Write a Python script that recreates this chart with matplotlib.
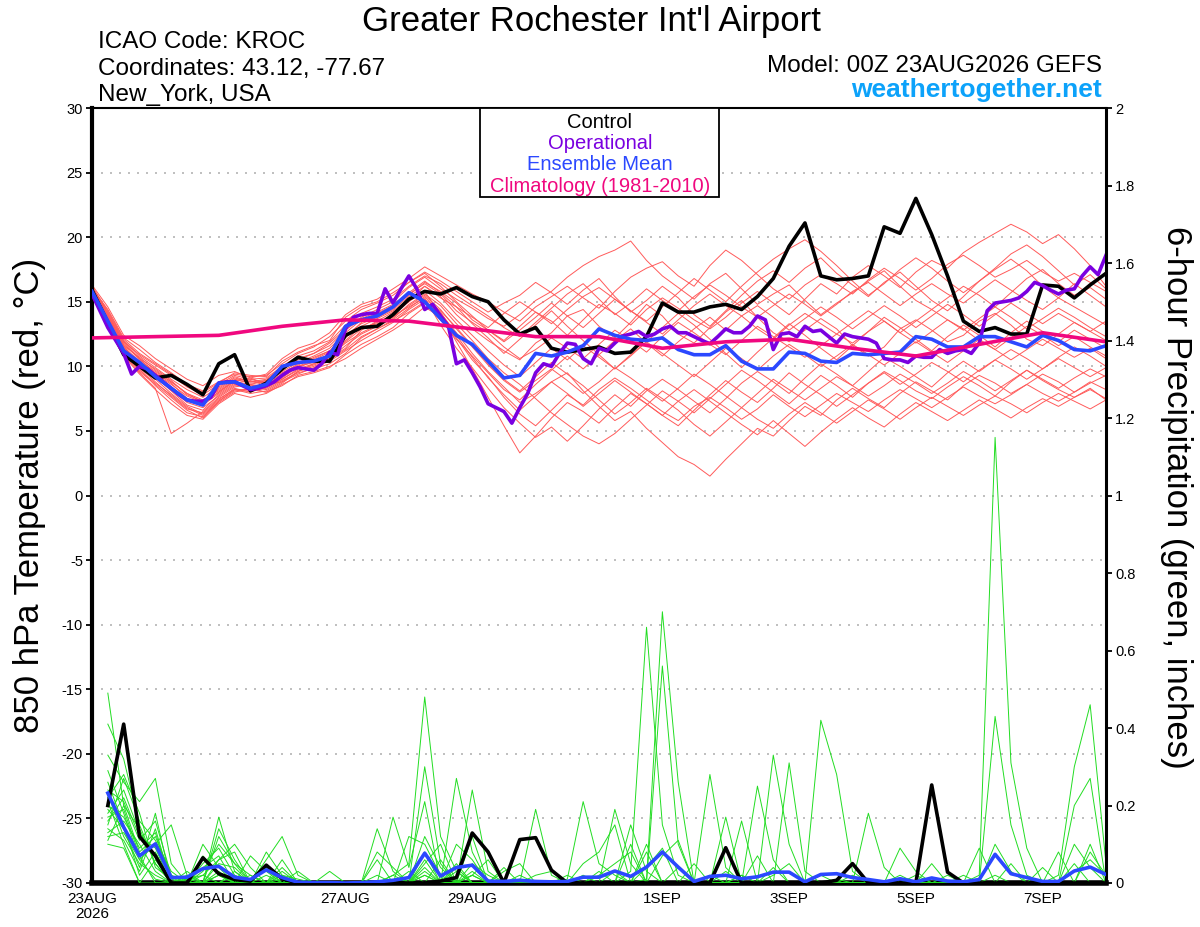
import numpy as np
import matplotlib
matplotlib.use("Agg")
import matplotlib.pyplot as plt
from matplotlib.patches import Rectangle

plt.rcParams['font.family'] = ['Liberation Sans', 'DejaVu Sans']
plt.rcParams['axes.unicode_minus'] = False

# time axes (hours after 00Z 23AUG2026)
hours6 = np.arange(0, 385, 6)
hours3 = np.arange(0, 385, 3)
precip_hours = np.arange(6, 385, 6)
climo_hours = np.arange(0, 385, 24)

date_ticks = [0, 48, 96, 144, 216, 264, 312, 360]
date_labels = ["23AUG\n2026", "25AUG", "27AUG", "29AUG", "1SEP", "3SEP", "5SEP", "7SEP"]

temp_ticks = list(range(-30, 31, 5))
precip_ticks = [0, 0.2, 0.4, 0.6, 0.8, 1.0, 1.2, 1.4, 1.6, 1.8, 2.0]
precip_tick_labels = ["0", "0.2", "0.4", "0.6", "0.8", "1", "1.2", "1.4", "1.6", "1.8", "2"]

# 850 hPa temperature, 6-hourly
control_t = [15.9, 13.4, 10.9, 10.0, 9.1, 9.3, 8.6, 7.8, 10.2, 10.9, 8.1, 8.7, 9.8, 10.7, 10.4, 10.4,
             12.4, 13.0, 13.1, 14.0, 15.2, 15.8, 15.6, 16.1, 15.4, 15.0, 13.6, 12.5, 13.0, 11.4, 11.1, 11.3,
             11.5, 11.0, 11.1, 12.3, 14.9, 14.2, 14.2, 14.6, 14.8, 14.4, 15.4, 16.8, 19.3, 21.1, 17.0, 16.7,
             16.8, 17.0, 20.8, 20.3, 23.0, 20.2, 17.0, 13.5, 12.7, 13.0, 12.5, 12.5, 16.3, 16.2, 15.3, 16.3, 17.2]

mean_t = [15.8, 13.5, 11.2, 10.3, 9.2, 8.3, 7.4, 7.0, 8.7, 8.8, 8.3, 8.6, 10.0, 10.3, 10.4, 10.8, 13.1,
          13.6, 13.9, 14.6, 15.7, 15.0, 13.7, 12.4, 11.7, 10.4, 9.1, 9.3, 11.0, 10.8, 11.1, 11.6,
          12.9, 12.4, 12.1, 12.0, 12.2, 11.3, 10.9, 10.9, 11.6, 10.4, 9.8, 9.8, 11.1, 11.0, 10.4, 10.3,
          11.0, 10.9, 11.0, 11.1, 12.3, 12.1, 11.5, 11.5, 12.3, 12.3, 11.9, 11.5, 12.4, 12.0, 11.3, 11.2, 11.6]

# operational run, 3-hourly
oper_t = [15.6, 14.3, 13.0, 12.0, 11.0, 9.4, 10.0, 9.8, 9.3, 8.8, 8.3, 7.8, 7.4, 7.3, 7.3, 7.6,
          8.7, 8.8, 8.8, 8.5, 8.2, 8.3, 8.5, 8.8, 9.3, 9.7, 9.9, 9.8, 9.7, 10.2, 11.1, 10.9,
          12.9, 13.8, 14.0, 14.1, 14.1, 16.0, 14.9, 16.0, 17.0, 16.0, 14.4, 14.8, 13.9, 13.1, 10.2, 10.5,
          9.5, 8.4, 7.1, 6.8, 6.5, 5.6, 6.8, 7.9, 9.5, 10.2, 10.0, 11.0, 11.8, 11.7, 10.6, 10.2,
          11.4, 11.2, 11.8, 12.35, 12.5, 12.7, 12.3, 12.5, 12.9, 13.1, 12.6, 12.6, 12.3, 12.0, 11.75, 12.3,
          12.9, 12.6, 12.6, 13.1, 13.9, 13.6, 11.3, 12.5, 12.6, 12.3, 13.1, 12.7, 12.8, 12.3, 11.8, 12.5,
          12.3, 12.2, 12.1, 11.8, 10.6, 10.5, 10.5, 10.3, 10.8, 10.7, 10.7, 11.3, 11.0, 11.2, 11.3, 11.0,
          11.8, 14.3, 14.9, 15.0, 15.1, 15.3, 15.8, 16.5, 16.25, 15.9, 15.6, 15.9, 16.0, 17.0, 17.7, 17.1, 18.6]

# climatology, daily
climo_t = [12.2, 12.3, 12.4, 13.1, 13.6, 13.5, 12.9, 12.3, 12.3, 11.4, 11.9, 12.1, 11.4, 10.8, 11.7, 12.6, 11.9]

members_t = [
    [16.0, 13.9, 11.8, 10.5, 9.6, 8.8, 7.9, 7.2, 8.0, 8.9, 9.1, 8.6, 8.8, 9.6, 10.2, 10.6,
     11.4, 12.8, 13.5, 14.2, 15.0, 16.2, 15.4, 14.0, 12.9, 12.0, 11.2, 10.5, 11.8, 12.6, 13.9, 14.4,
     13.1, 12.2, 13.4, 14.8, 13.9, 12.5, 11.8, 13.0, 14.2, 15.1, 13.8, 12.6, 11.9, 12.8, 13.7, 12.9,
     11.6, 10.8, 11.5, 12.9, 13.6, 12.8, 11.9, 12.4, 13.5, 14.1, 13.2, 12.1, 11.6, 12.5, 13.4, 12.7, 12.0],
    [16.1, 14.2, 12.0, 10.8, 9.9, 9.0, 8.2, 7.6, 8.4, 9.2, 8.8, 9.0, 9.9, 10.6, 11.0, 11.8,
     12.9, 13.8, 14.4, 15.0, 16.1, 16.9, 16.0, 15.2, 14.5, 13.7, 13.1, 14.0, 15.1, 15.8, 16.9, 17.8,
     18.5, 19.0, 19.7, 18.2, 17.0, 16.1, 15.2, 16.4, 17.2, 16.0, 14.8, 15.6, 16.3, 15.1, 14.0, 14.9,
     15.7, 16.6, 17.4, 16.2, 15.1, 14.4, 15.3, 16.2, 15.5, 14.6, 15.7, 16.8, 17.5, 16.4, 15.5, 16.1, 15.2],
    [15.8, 13.5, 11.4, 10.2, 9.2, 8.1, 7.0, 6.6, 7.8, 8.6, 8.4, 8.2, 8.9, 9.5, 9.8, 10.2,
     11.0, 12.2, 12.9, 13.5, 14.2, 15.0, 14.1, 12.6, 11.0, 9.6, 8.4, 7.2, 7.9, 8.8, 9.5, 8.1,
     6.9, 5.8, 6.5, 5.2, 4.1, 3.0, 2.4, 1.5, 2.8, 4.0, 5.2, 4.6, 5.8, 6.9, 6.2, 7.4,
     8.3, 7.5, 6.8, 7.9, 8.8, 8.1, 7.4, 8.5, 9.3, 8.7, 7.9, 8.6, 9.4, 8.8, 8.0, 8.7, 9.3],
    [16.2, 14.0, 11.6, 10.1, 9.0, 7.9, 6.9, 6.3, 7.4, 8.3, 8.0, 8.4, 9.2, 9.9, 10.4, 10.9,
     12.0, 13.1, 13.7, 14.3, 15.2, 15.8, 14.0, 11.9, 9.8, 7.6, 5.4, 3.3, 4.6, 6.0, 7.2, 6.5,
     5.6, 6.8, 7.9, 7.1, 6.2, 5.4, 6.6, 7.8, 8.9, 8.0, 7.2, 8.3, 9.5, 8.6, 7.8, 6.9,
     7.8, 8.7, 9.6, 8.9, 8.1, 7.5, 8.4, 9.2, 8.5, 7.7, 8.8, 9.7, 8.9, 8.2, 7.6, 8.3, 7.4],
    [15.9, 13.7, 11.5, 10.4, 9.5, 8.7, 7.5, 7.0, 7.9, 8.7, 8.9, 8.5, 9.1, 10.0, 10.5, 11.1,
     12.2, 13.4, 14.0, 14.6, 15.5, 16.5, 15.8, 14.9, 13.6, 12.8, 12.0, 13.1, 14.2, 13.5, 12.4, 13.6,
     14.8, 14.1, 13.2, 14.4, 15.3, 14.5, 13.6, 12.9, 13.8, 14.9, 15.8, 14.9, 14.0, 15.2, 16.4, 15.6,
     16.9, 17.8, 17.0, 16.1, 17.3, 18.2, 17.6, 18.8, 19.6, 20.3, 21.0, 20.4, 19.5, 20.2, 19.1, 17.8, 16.2],
    [15.7, 13.2, 11.0, 9.8, 8.5, 7.4, 6.4, 6.1, 7.2, 8.0, 8.3, 8.0, 8.5, 9.3, 9.6, 10.0,
     10.6, 11.4, 12.1, 12.8, 13.6, 14.6, 13.8, 12.2, 10.5, 9.2, 7.6, 6.3, 5.4, 6.6, 7.8, 7.0,
     8.2, 9.1, 8.3, 7.4, 6.5, 5.8, 6.9, 7.6, 6.8, 5.9, 6.7, 7.8, 6.9, 6.1, 7.0, 7.9,
     7.2, 6.5, 7.4, 8.2, 7.5, 6.8, 7.6, 8.4, 7.7, 7.1, 7.8, 8.6, 7.9, 7.3, 8.0, 8.8, 8.2],
    [16.0, 14.4, 12.2, 11.3, 10.3, 9.5, 8.6, 8.1, 8.8, 9.4, 9.2, 9.3, 10.2, 11.0, 11.5, 12.3,
     13.5, 14.4, 14.9, 15.5, 16.5, 17.3, 16.6, 15.8, 15.0, 14.2, 14.9, 15.5, 16.5, 15.7, 14.8, 15.9,
     16.8, 15.4, 14.2, 15.1, 16.2, 15.3, 14.0, 13.1, 14.3, 15.5, 16.6, 17.4, 16.5, 17.6, 18.4, 17.2,
     16.3, 15.4, 16.5, 17.3, 16.2, 15.1, 14.3, 15.4, 16.6, 17.5, 18.3, 17.4, 16.2, 15.3, 16.4, 15.5, 14.6],
    [15.6, 13.0, 10.9, 9.5, 8.3, 4.8, 5.6, 6.5, 7.6, 8.4, 8.6, 8.9, 9.5, 10.1, 10.7, 11.2,
     12.4, 13.0, 13.3, 13.9, 14.6, 15.3, 13.2, 11.4, 9.9, 8.3, 6.8, 5.6, 4.5, 5.3, 4.2, 5.4,
     6.7, 7.8, 6.9, 8.1, 9.0, 8.2, 7.3, 6.4, 7.5, 8.7, 9.6, 8.8, 7.9, 9.1, 10.2, 9.4,
     8.5, 9.6, 10.7, 10.0, 9.2, 8.4, 9.5, 10.4, 9.6, 10.5, 11.3, 10.6, 9.8, 10.7, 11.5, 10.8, 10.0],
    [16.3, 14.6, 12.4, 11.6, 10.6, 9.8, 9.0, 8.5, 9.3, 9.6, 9.1, 9.4, 10.6, 11.4, 11.8, 12.6,
     14.0, 14.8, 15.2, 16.0, 16.8, 17.7, 17.0, 16.3, 15.6, 15.0, 14.2, 13.5, 14.6, 15.4, 16.2, 15.3,
     14.5, 15.8, 16.9, 17.6, 18.1, 17.0, 16.2, 17.8, 19.0, 18.2, 17.1, 16.0, 15.2, 16.3, 17.1, 16.4,
     15.6, 16.7, 17.6, 16.8, 15.9, 16.8, 17.9, 18.6, 17.8, 16.9, 17.5, 18.2, 17.3, 16.6, 17.2, 16.5, 15.8],
    [15.9, 13.8, 11.7, 10.6, 9.8, 8.9, 7.8, 7.3, 8.2, 9.0, 8.7, 8.8, 9.6, 10.3, 10.8, 11.4,
     12.6, 13.6, 14.1, 14.7, 15.6, 16.4, 15.6, 14.3, 13.4, 12.6, 11.5, 10.6, 11.3, 12.2, 11.4, 10.6,
     11.7, 12.8, 12.0, 11.1, 12.3, 13.4, 12.6, 11.7, 10.9, 12.0, 13.1, 12.3, 11.5, 10.7, 11.6, 12.5,
     11.8, 12.7, 13.5, 12.6, 11.8, 12.7, 13.6, 12.9, 12.0, 11.3, 12.2, 13.1, 12.4, 11.6, 12.3, 11.5, 10.8],
    [15.8, 13.4, 11.2, 9.9, 8.8, 7.7, 6.7, 6.4, 7.5, 8.2, 7.9, 8.1, 8.8, 9.4, 9.9, 10.4,
     11.2, 12.0, 12.7, 13.4, 14.4, 15.2, 14.3, 13.0, 11.6, 10.2, 9.0, 8.1, 9.2, 10.3, 9.4, 8.5,
     7.4, 6.3, 7.2, 8.3, 7.5, 6.6, 5.5, 4.6, 5.7, 6.8, 5.9, 5.2, 6.3, 7.2, 6.4, 5.6,
     6.5, 7.4, 6.7, 5.9, 6.8, 7.6, 6.9, 6.2, 7.0, 7.7, 7.1, 6.4, 7.2, 7.9, 7.3, 6.7, 7.4],
    [16.1, 14.1, 11.9, 10.9, 10.1, 9.3, 8.4, 7.8, 8.6, 9.3, 9.0, 9.1, 10.0, 10.8, 11.2, 11.9,
     13.2, 14.1, 14.6, 15.2, 16.2, 17.0, 16.4, 15.5, 14.7, 13.9, 13.0, 12.3, 13.4, 14.5, 15.6, 16.4,
     15.2, 14.0, 14.9, 16.0, 15.1, 14.3, 15.4, 16.3, 15.5, 14.6, 13.8, 14.7, 15.6, 14.8, 13.9, 14.8,
     15.8, 16.5, 15.6, 14.7, 15.6, 16.4, 15.6, 14.9, 15.8, 16.7, 15.9, 15.1, 14.4, 15.3, 14.6, 13.9, 13.2],
    [15.7, 13.3, 11.1, 9.6, 8.6, 7.6, 6.6, 6.0, 7.3, 8.1, 8.1, 8.3, 9.0, 9.7, 10.1, 10.6,
     11.6, 12.5, 13.1, 13.7, 14.8, 15.6, 14.7, 13.3, 12.0, 10.6, 9.5, 8.6, 7.5, 6.4, 5.5, 4.6,
     4.0, 4.8, 5.9, 7.0, 8.1, 7.3, 6.4, 7.5, 8.6, 9.7, 8.9, 8.0, 7.1, 8.2, 9.3, 8.5,
     7.6, 8.7, 9.5, 8.6, 9.4, 10.3, 9.6, 8.8, 9.7, 10.5, 9.8, 9.0, 9.8, 10.6, 9.9, 9.2, 9.9],
    [16.0, 13.8, 11.6, 10.7, 9.7, 8.8, 7.9, 7.4, 8.1, 8.9, 9.0, 8.7, 9.4, 10.2, 10.6, 11.2,
     12.4, 13.3, 13.8, 14.4, 15.4, 16.2, 15.3, 14.6, 13.8, 13.0, 14.1, 15.0, 14.2, 13.3, 14.4, 15.4,
     16.1, 15.2, 14.3, 13.4, 12.5, 13.6, 14.7, 15.6, 14.7, 13.9, 12.9, 12.1, 13.2, 14.1, 13.3, 12.5,
     13.4, 14.3, 13.5, 12.6, 13.5, 14.4, 13.6, 12.8, 13.7, 14.6, 13.8, 12.9, 13.7, 14.5, 13.8, 13.0, 12.3],
    [15.8, 13.6, 11.3, 10.0, 9.1, 8.2, 7.2, 6.8, 7.7, 8.5, 8.5, 8.6, 9.3, 10.0, 10.3, 10.8,
     11.8, 12.6, 13.2, 13.8, 14.7, 15.5, 14.4, 12.9, 11.5, 10.1, 8.9, 8.0, 8.9, 9.8, 8.9, 7.9,
     8.8, 9.9, 9.1, 8.2, 7.3, 8.3, 9.4, 8.6, 7.7, 6.8, 7.9, 9.0, 8.2, 7.4, 8.3, 9.2,
     8.5, 7.7, 8.5, 9.4, 8.7, 7.9, 8.7, 9.6, 8.9, 8.1, 8.9, 9.7, 9.0, 8.3, 9.1, 9.8, 9.2],
    [16.2, 14.3, 12.1, 11.0, 10.2, 9.4, 8.5, 8.0, 8.7, 9.5, 9.3, 9.2, 10.4, 11.1, 11.6, 12.0,
     13.8, 14.6, 15.0, 15.7, 16.5, 17.2, 16.2, 15.0, 13.9, 12.8, 11.9, 12.8, 13.8, 14.9, 13.9, 13.0,
     14.1, 15.2, 14.3, 13.5, 14.6, 15.7, 16.8, 15.9, 15.0, 16.2, 17.3, 18.3, 19.1, 19.8, 18.9, 17.8,
     16.6, 15.5, 16.4, 17.5, 18.4, 17.6, 16.6, 15.7, 16.6, 17.6, 18.7, 19.4, 18.5, 17.4, 16.3, 17.1, 16.0],
    [15.9, 13.5, 11.4, 10.3, 9.3, 8.4, 7.4, 7.1, 8.0, 8.8, 8.6, 8.4, 9.0, 9.8, 10.2, 10.7,
     11.9, 12.9, 13.4, 14.0, 15.0, 15.9, 14.9, 13.6, 12.4, 11.2, 10.1, 9.2, 10.3, 11.4, 10.5, 11.6,
     10.7, 9.8, 10.9, 11.9, 11.0, 10.1, 9.2, 10.3, 11.4, 10.6, 9.7, 10.8, 11.7, 10.9, 10.0, 10.8,
     11.7, 10.9, 10.1, 11.0, 11.9, 11.1, 10.3, 11.2, 12.1, 11.3, 10.5, 11.3, 12.1, 11.4, 10.7, 11.4, 10.6],
    [16.1, 14.0, 11.9, 10.6, 9.4, 8.6, 7.7, 7.2, 8.3, 9.1, 8.8, 8.9, 9.8, 10.5, 11.0, 11.6,
     12.8, 13.7, 14.2, 14.8, 15.7, 16.6, 15.7, 14.6, 13.3, 12.2, 11.0, 12.1, 13.2, 14.3, 13.1, 12.0,
     10.9, 9.8, 10.8, 11.9, 13.0, 14.1, 13.2, 12.1, 11.0, 9.9, 11.1, 12.2, 13.3, 12.4, 11.4, 10.5,
     11.6, 12.7, 13.8, 13.0, 12.1, 11.2, 12.3, 13.2, 12.4, 11.5, 12.6, 13.5, 12.7, 11.9, 12.8, 12.1, 11.4],
    [15.6, 13.1, 10.8, 9.4, 8.2, 7.1, 6.2, 5.9, 7.1, 7.9, 7.6, 7.9, 8.6, 9.2, 9.5, 9.9,
     10.9, 11.7, 12.3, 13.0, 14.1, 14.9, 13.6, 12.1, 10.8, 9.5, 8.2, 7.4, 8.6, 9.7, 10.8, 9.8,
     10.9, 12.0, 12.9, 11.8, 10.8, 11.9, 12.9, 13.8, 12.8, 13.9, 14.7, 13.8, 12.8, 13.7, 14.6, 13.8,
     12.9, 13.8, 14.7, 13.9, 13.0, 13.9, 14.8, 14.0, 13.1, 14.0, 14.9, 14.1, 13.3, 14.1, 13.4, 12.7, 13.5],
    [15.7, 13.3, 11.1, 9.7, 8.7, 7.8, 6.8, 6.2, 7.3, 8.2, 8.2, 8.0, 8.7, 9.6, 10.0, 10.5,
     11.3, 12.3, 12.9, 13.6, 14.5, 15.4, 14.2, 12.4, 10.7, 9.1, 7.8, 6.6, 7.7, 8.8, 7.9, 6.9,
     7.9, 8.9, 8.0, 7.1, 6.2, 7.3, 8.2, 7.3, 6.4, 5.5, 4.7, 5.8, 4.8, 3.8, 4.9, 5.9,
     6.8, 6.0, 5.3, 6.3, 7.2, 6.5, 5.8, 6.6, 7.4, 6.7, 6.0, 6.8, 7.5, 6.9, 7.6, 8.2, 7.5],
]

# 6-hour precipitation (inches), from hour 6
control_p = [0.20, 0.41, 0.12, 0.07, 0, 0, 0.065, 0.024, 0.009, 0.005, 0.046, 0.011, 0, 0, 0, 0,
             0, 0, 0, 0, 0, 0.005, 0.014, 0.129, 0.08, 0, 0.112, 0.117, 0.033, 0, 0, 0,
             0, 0, 0, 0, 0, 0, 0, 0.091, 0, 0, 0, 0, 0, 0, 0.007, 0.05,
             0, 0, 0, 0, 0.253, 0.028, 0, 0, 0, 0, 0, 0, 0, 0, 0, 0]

mean_p = [0.232, 0.144, 0.07, 0.101, 0.014, 0.015, 0.037, 0.043, 0.015, 0.009, 0.034, 0.014, 0.002, 0.001, 0.001, 0,
          0.001, 0.003, 0.007, 0.014, 0.077, 0.018, 0.040, 0.046, 0.005, 0.004, 0.007, 0.004, 0.003, 0.004, 0.015, 0.015,
          0.031, 0.017, 0.041, 0.080, 0.041, 0.004, 0.017, 0.020, 0.011, 0.016, 0.028, 0.028, 0.003, 0.022, 0.024, 0.014,
          0.009, 0.003, 0.011, 0.003, 0.013, 0.005, 0.003, 0.009, 0.074, 0.024, 0.014, 0.004, 0.004, 0.031, 0.041, 0.022]

members_p = [
    [0.49, 0.20, 0.08, 0.12, 0.02, 0, 0.03, 0.10, 0.05, 0.02, 0, 0.01, 0, 0, 0, 0,
     0, 0, 0.02, 0.05, 0.48, 0.12, 0.03, 0, 0, 0, 0.01, 0, 0, 0, 0.02, 0,
     0, 0.03, 0.66, 0.15, 0.02, 0, 0, 0.03, 0, 0, 0.02, 0.05, 0, 0, 0.01, 0,
     0, 0, 0.02, 0, 0, 0, 0, 0.02, 1.15, 0.31, 0.09, 0, 0, 0.03, 0.06, 0.02],
    [0.41, 0.32, 0.15, 0.05, 0, 0.01, 0, 0.06, 0.10, 0.04, 0, 0.02, 0.01, 0, 0, 0,
     0, 0.14, 0.03, 0, 0.30, 0.05, 0, 0.02, 0, 0, 0, 0, 0, 0.01, 0.21, 0.05,
     0.02, 0, 0.01, 0.70, 0.26, 0, 0.02, 0, 0, 0, 0, 0, 0, 0.02, 0, 0,
     0, 0, 0, 0.02, 0, 0, 0, 0, 0.43, 0.15, 0.02, 0, 0.02, 0.30, 0.46, 0.05],
    [0.33, 0.26, 0.21, 0.27, 0.05, 0, 0, 0.02, 0, 0, 0.06, 0.12, 0.02, 0, 0, 0,
     0, 0, 0.17, 0.04, 0.21, 0, 0.27, 0.08, 0, 0, 0, 0.19, 0.02, 0, 0, 0,
     0.19, 0.05, 0, 0.56, 0.10, 0, 0, 0, 0.02, 0, 0, 0, 0, 0, 0, 0.02,
     0, 0, 0, 0, 0, 0.02, 0, 0, 0.10, 0.03, 0, 0, 0, 0.20, 0.27, 0],
    [0.29, 0.18, 0.06, 0.10, 0.15, 0.02, 0, 0.17, 0.03, 0, 0, 0, 0, 0, 0.03, 0,
     0, 0.02, 0, 0.12, 0.10, 0.02, 0, 0.24, 0.03, 0, 0, 0, 0, 0, 0, 0,
     0, 0, 0, 0, 0, 0, 0.28, 0.04, 0, 0, 0, 0.31, 0.03, 0, 0, 0,
     0, 0, 0, 0, 0, 0, 0, 0, 0, 0, 0, 0, 0.08, 0, 0, 0],
    [0.26, 0.15, 0.02, 0.08, 0, 0, 0.10, 0.04, 0, 0.07, 0.03, 0, 0, 0, 0, 0,
     0, 0, 0, 0, 0.08, 0, 0, 0.05, 0.02, 0, 0, 0.02, 0.03, 0, 0, 0.03,
     0, 0.15, 0.03, 0, 0, 0, 0, 0.17, 0, 0, 0, 0, 0, 0.42, 0.28, 0.03,
     0, 0, 0, 0, 0, 0, 0, 0, 0, 0, 0, 0, 0, 0, 0.08, 0.02],
    [0.24, 0.21, 0.11, 0.16, 0.02, 0, 0.02, 0.06, 0.08, 0, 0, 0.04, 0, 0, 0, 0,
     0, 0.06, 0, 0, 0.05, 0.10, 0, 0, 0, 0.04, 0, 0, 0, 0, 0.05, 0.08,
     0.15, 0, 0.08, 0, 0, 0, 0, 0, 0, 0.25, 0.06, 0, 0, 0, 0, 0,
     0.18, 0.04, 0, 0, 0, 0, 0, 0, 0, 0, 0, 0, 0, 0, 0, 0],
    [0.23, 0.12, 0.05, 0.02, 0, 0, 0.05, 0.09, 0.02, 0, 0.08, 0.02, 0, 0, 0, 0,
     0, 0, 0, 0, 0.03, 0, 0.10, 0.06, 0, 0, 0, 0, 0, 0, 0, 0,
     0, 0.10, 0, 0.07, 0.11, 0, 0, 0, 0.16, 0, 0, 0, 0, 0, 0, 0,
     0, 0, 0.09, 0.03, 0, 0, 0, 0.09, 0, 0, 0, 0, 0, 0, 0, 0],
    [0.22, 0.28, 0.18, 0.04, 0.01, 0, 0, 0.03, 0, 0.02, 0, 0, 0, 0, 0, 0,
     0, 0, 0, 0, 0.12, 0.04, 0, 0.02, 0.06, 0, 0.02, 0, 0, 0, 0, 0,
     0, 0, 0, 0, 0, 0.05, 0, 0, 0, 0, 0.33, 0.10, 0, 0, 0, 0,
     0, 0, 0, 0, 0.05, 0, 0, 0, 0, 0, 0, 0, 0, 0.10, 0.04, 0],
    [0.21, 0.10, 0, 0.06, 0, 0.03, 0, 0.12, 0.05, 0, 0, 0.06, 0, 0, 0, 0,
     0, 0, 0.02, 0, 0, 0, 0.03, 0, 0, 0.03, 0.05, 0, 0, 0, 0, 0,
     0, 0, 0.10, 0, 0, 0, 0, 0, 0, 0, 0, 0, 0, 0, 0, 0.05,
     0, 0, 0, 0, 0, 0, 0.02, 0, 0, 0, 0, 0.04, 0, 0, 0, 0],
    [0.20, 0.17, 0.09, 0.13, 0, 0.01, 0.02, 0, 0, 0, 0.02, 0, 0.03, 0, 0, 0,
     0, 0, 0, 0, 0.06, 0, 0, 0, 0, 0, 0, 0, 0, 0, 0, 0,
     0, 0, 0, 0, 0, 0, 0, 0, 0, 0, 0, 0, 0, 0, 0, 0,
     0, 0, 0, 0, 0, 0, 0, 0, 0.02, 0, 0, 0, 0, 0, 0, 0],
    [0.19, 0.14, 0.04, 0.18, 0, 0, 0.07, 0.02, 0, 0, 0, 0, 0, 0, 0, 0,
     0, 0.08, 0.04, 0, 0.02, 0, 0, 0, 0, 0, 0, 0, 0, 0.02, 0, 0.02,
     0.05, 0.08, 0, 0, 0.04, 0, 0, 0, 0, 0.07, 0, 0, 0, 0, 0, 0,
     0, 0, 0, 0, 0, 0, 0, 0, 0, 0.05, 0, 0, 0, 0, 0.10, 0],
    [0.18, 0.24, 0.13, 0.07, 0, 0, 0, 0.05, 0.04, 0, 0, 0, 0, 0, 0, 0,
     0, 0, 0, 0, 0, 0, 0, 0.03, 0, 0, 0, 0, 0, 0, 0, 0,
     0, 0, 0, 0, 0, 0, 0, 0, 0, 0, 0, 0, 0, 0, 0, 0,
     0, 0, 0, 0, 0, 0, 0, 0, 0, 0, 0, 0, 0, 0, 0, 0],
    [0.17, 0.19, 0.07, 0, 0, 0, 0.04, 0.07, 0, 0, 0, 0.03, 0, 0, 0, 0,
     0, 0, 0, 0.03, 0, 0, 0.05, 0, 0, 0, 0, 0, 0, 0, 0, 0,
     0.03, 0, 0, 0, 0, 0, 0, 0, 0, 0, 0.04, 0, 0, 0, 0, 0,
     0, 0, 0, 0, 0, 0, 0, 0, 0, 0, 0, 0, 0, 0, 0, 0],
    [0.16, 0.22, 0.12, 0.09, 0, 0, 0, 0, 0.02, 0, 0, 0, 0, 0, 0, 0,
     0, 0, 0, 0, 0.04, 0, 0, 0.02, 0, 0, 0, 0, 0, 0, 0, 0,
     0, 0, 0, 0, 0, 0, 0, 0, 0.02, 0, 0, 0, 0, 0, 0, 0,
     0, 0, 0, 0, 0, 0, 0, 0, 0, 0, 0, 0, 0, 0, 0, 0],
    [0.15, 0.27, 0.16, 0.11, 0.03, 0, 0, 0.14, 0.06, 0, 0, 0, 0, 0, 0, 0,
     0, 0, 0, 0, 0, 0, 0, 0.12, 0, 0, 0, 0, 0, 0, 0, 0,
     0, 0, 0, 0, 0, 0, 0, 0, 0, 0, 0, 0, 0, 0, 0, 0,
     0, 0, 0, 0, 0, 0, 0, 0, 0, 0, 0, 0, 0, 0, 0, 0],
    [0.14, 0.11, 0.03, 0.14, 0, 0, 0, 0, 0, 0, 0.04, 0, 0, 0, 0, 0,
     0, 0, 0, 0, 0, 0.06, 0, 0, 0, 0, 0, 0, 0, 0, 0, 0,
     0, 0, 0, 0, 0, 0, 0, 0, 0, 0, 0, 0, 0, 0, 0, 0,
     0, 0, 0, 0, 0, 0, 0, 0, 0, 0, 0, 0, 0, 0.05, 0, 0],
    [0.13, 0.16, 0.10, 0.03, 0, 0, 0, 0.02, 0, 0, 0, 0, 0, 0, 0, 0,
     0, 0, 0, 0, 0, 0, 0, 0, 0, 0, 0, 0, 0, 0, 0, 0,
     0, 0, 0.04, 0.09, 0, 0, 0, 0, 0, 0, 0, 0, 0, 0, 0, 0,
     0, 0, 0, 0, 0, 0, 0, 0, 0, 0, 0, 0, 0, 0, 0, 0],
    [0.12, 0.13, 0.06, 0.01, 0, 0, 0, 0, 0.03, 0, 0, 0, 0, 0, 0, 0,
     0, 0, 0, 0, 0, 0, 0, 0, 0, 0, 0, 0, 0, 0, 0, 0,
     0, 0, 0, 0, 0, 0, 0, 0, 0, 0, 0, 0, 0, 0, 0, 0,
     0, 0, 0, 0, 0, 0, 0, 0, 0, 0, 0, 0, 0, 0, 0, 0],
    [0.11, 0.20, 0.14, 0.05, 0, 0.02, 0, 0, 0, 0, 0, 0, 0, 0, 0, 0,
     0, 0, 0, 0, 0, 0, 0.04, 0, 0, 0, 0, 0, 0, 0, 0, 0,
     0, 0, 0, 0, 0, 0, 0, 0, 0, 0, 0, 0, 0, 0, 0, 0,
     0, 0, 0, 0, 0, 0, 0, 0, 0, 0, 0, 0, 0, 0, 0, 0],
    [0.10, 0.09, 0, 0, 0, 0, 0, 0, 0, 0, 0, 0, 0, 0, 0, 0,
     0, 0, 0, 0, 0.02, 0, 0, 0, 0, 0, 0, 0, 0, 0, 0, 0,
     0, 0, 0, 0, 0, 0, 0, 0, 0, 0, 0, 0, 0, 0, 0, 0,
     0, 0, 0, 0, 0, 0, 0, 0, 0, 0, 0, 0, 0, 0, 0, 0],
]

W, H = 1200, 927

def fx(px):
    return px / W

def fy(py):
    return 1 - py / H

RED = '#ff5a5a'
GREEN = '#22dd22'
PURPLE = '#7a00e0'
BLUE = '#2b48ff'
PINK = '#f0087f'

fig = plt.figure(figsize=(12, 9.27), dpi=100)
ax1 = fig.add_axes([fx(92), fy(883), 1014 / W, 775 / H])
ax1.set_xlim(0, 384)
ax1.set_ylim(-30, 30)

for v in range(-25, 26, 5):
    ax1.axhline(v, color='#b4b4b4', lw=1.2, ls=(0, (1.2, 4.2)), zorder=0.5)

for m in members_t:
    ax1.plot(hours6, m, color=RED, lw=0.7, zorder=2)

ax1.plot(hours6, control_t, color='black', lw=2.6, zorder=3)
ax1.plot(hours3, oper_t, color=PURPLE, lw=2.6, zorder=4)
ax1.plot(hours6, mean_t, color=BLUE, lw=2.6, zorder=5)
ax1.plot(climo_hours, climo_t, color=PINK, lw=2.6, zorder=6)

ax1.set_yticks(temp_ticks)
ax1.set_xticks(date_ticks)
ax1.set_xticklabels(date_labels)
ax1.tick_params(axis='y', direction='out', length=4.5, width=1.3, labelsize=10.5, pad=2)
ax1.tick_params(axis='x', length=0, labelsize=11, pad=6.5)
for lab in ax1.get_xticklabels():
    lab.set_linespacing(1.05)

ax2 = ax1.twinx()
ax2.set_ylim(0, 2)
ax2.set_xlim(0, 384)
for m in members_p:
    ax2.plot(precip_hours, m, color=GREEN, lw=0.7, zorder=2)
ax2.plot(precip_hours, control_p, color='black', lw=2.6, zorder=3)
ax2.plot(precip_hours, mean_p, color=BLUE, lw=2.6, zorder=4)
ax2.set_yticks(precip_ticks)
ax2.set_yticklabels(precip_tick_labels)
ax2.tick_params(axis='y', direction='out', length=4.5, width=1.3, labelsize=10.5, pad=2)

ax1.spines['left'].set_linewidth(3)
ax1.spines['bottom'].set_linewidth(4)
ax1.spines['top'].set_linewidth(1.5)
ax1.spines['right'].set_visible(False)
for s in ['left', 'bottom', 'top']:
    ax2.spines[s].set_visible(False)
ax2.spines['right'].set_linewidth(2.2)

# axis titles
fig.text(fx(30), fy(495), '850 hPa Temperature (red, °C)', rotation=90,
         ha='center', va='center', fontsize=25)
fig.text(fx(1176), fy(497), '6-hour Precipitation (green, inches)', rotation=270,
         ha='center', va='center', fontsize=25)

# header text
fig.text(fx(591), fy(30.5), "Greater Rochester Int'l Airport", ha='center', va='baseline', fontsize=25)
fig.text(fx(98), fy(48.5), 'ICAO Code: KROC', ha='left', va='baseline', fontsize=17.5)
fig.text(fx(98), fy(74.5), 'Coordinates: 43.12, -77.67', ha='left', va='baseline', fontsize=17.5)
fig.text(fx(98), fy(100.5), 'New_York, USA', ha='left', va='baseline', fontsize=17.5)
fig.text(fx(1102), fy(71.5), 'Model: 00Z 23AUG2026 GEFS', ha='right', va='baseline', fontsize=17.5)
fig.text(fx(1102), fy(97.5), 'weathertogether.net', ha='right', va='baseline', fontsize=19,
         fontweight='bold', color='#0ca2fa')

# legend box
box = Rectangle((fx(480), fy(197)), 239 / W, 89 / H, transform=fig.transFigure,
                facecolor='white', edgecolor='black', lw=1.3, zorder=5)
fig.patches.append(box)
legend_items = [('Control', 'black'), ('Operational', PURPLE),
                ('Ensemble Mean', BLUE), ('Climatology (1981-2010)', PINK)]
for k, (label, col) in enumerate(legend_items):
    fig.text(fx(600), fy(127.5 + 21.5 * k), label, ha='center', va='baseline',
             fontsize=14.5, color=col, zorder=6)

fig.savefig('out.png', dpi=100)
